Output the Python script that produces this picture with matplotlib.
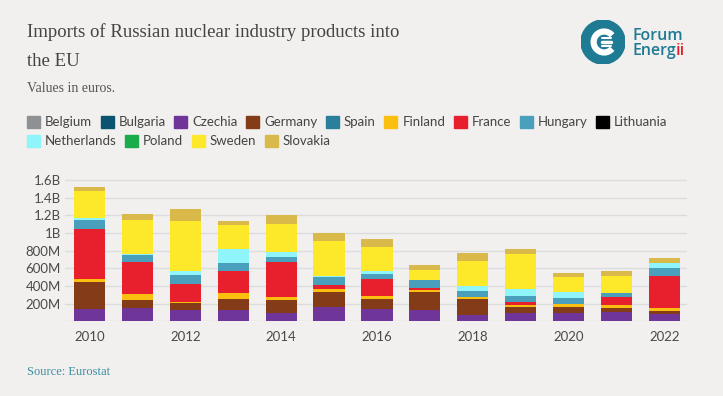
import matplotlib
matplotlib.use("Agg")
import matplotlib.pyplot as plt
from matplotlib.patches import Rectangle, Circle, Arc
import numpy as np

# values in million euros
years = [2010, 2011, 2012, 2013, 2014, 2015, 2016, 2017, 2018, 2019, 2020, 2021, 2022]
belgium = [0, 0, 0, 0, 0, 0, 0, 0, 0, 0, 0, 0, 0]
bulgaria = [0, 0, 0, 0, 0, 0, 0, 0, 0, 0, 0, 0, 0]
czechia = [140, 155, 132, 132, 94, 166, 140, 132, 75, 91, 91, 106, 87]
germany = [305, 87, 76, 121, 148, 166, 113, 204, 182, 71, 71, 45, 30]
spain = [0, 0, 0, 0, 0, 0, 0, 0, 0, 0, 0, 0, 0]
finland = [34, 67, 11, 68, 37, 38, 34, 19, 19, 23, 34, 34, 34]
france = [566, 363, 207, 249, 397, 38, 192, 26, 0, 34, 0, 94, 366]
hungary = [102, 83, 102, 90, 52, 94, 57, 83, 67, 68, 72, 42, 87]
lithuania = [0, 0, 0, 0, 0, 0, 0, 0, 0, 0, 0, 0, 0]
netherlands = [23, 7, 42, 159, 61, 7, 38, 0, 57, 79, 64, 0, 56]
poland = [0, 0, 0, 0, 0, 0, 0, 8, 0, 0, 0, 0, 0]
sweden = [309, 389, 570, 275, 317, 401, 268, 113, 287, 400, 174, 196, 0]
slovakia = [46, 68, 132, 42, 102, 94, 90, 57, 90, 53, 41, 57, 57]

countries = ["Belgium", "Bulgaria", "Czechia", "Germany", "Spain", "Finland", "France",
             "Hungary", "Lithuania", "Netherlands", "Poland", "Sweden", "Slovakia"]
series = [belgium, bulgaria, czechia, germany, spain, finland, france,
          hungary, lithuania, netherlands, poland, sweden, slovakia]
colors = ["#8e9094", "#0b5470", "#6f3598", "#833c17", "#2a7f9c", "#fbbf10", "#e8202e",
          "#4a9fbd", "#000000", "#8ff5fa", "#1aab4b", "#fde92a", "#d9b94a"]

xtick_years = [2010, 2012, 2014, 2016, 2018, 2020, 2022]
ytick_vals = [0, 200, 400, 600, 800, 1000, 1200, 1400, 1600]
ytick_labels = ["", "200M", "400M", "600M", "800M", "1B", "1.2B", "1.4B", "1.6B"]

BG = "#f1f0ee"
W, H = 723, 396

fig = plt.figure(figsize=(7.23, 3.96), dpi=100, facecolor=BG)

# ---- plot area ----
ax = fig.add_axes([65 / W, 74.7 / H, 622 / W, 143.1 / H])
ax.set_facecolor(BG)

bottom = np.zeros(len(years))
for name, vals, col in zip(countries, series, colors):
    v = np.array(vals, dtype=float) * 1e6
    ax.bar(years, v, bottom=bottom, width=0.65, color=col, linewidth=0, zorder=3)
    bottom += v

ax.set_xlim(2009.49, 2022.47)
ax.set_ylim(0, 1.62e9)
ax.set_yticks([v * 1e6 for v in ytick_vals])
ax.set_yticklabels(ytick_labels)
ax.set_xticks(xtick_years)
ax.set_xticklabels([str(y) for y in xtick_years])
ax.grid(axis="y", color="#dcdcdc", linewidth=1, zorder=0)
ax.tick_params(length=0, labelsize=9.5, labelcolor="#4a4a4a", pad=3)
ax.tick_params(axis="x", pad=7)
for lab in ax.get_xticklabels() + ax.get_yticklabels():
    lab.set_family("Lato")
for s in ax.spines.values():
    s.set_visible(False)

# ---- titles ----
tfont = ["Liberation Serif", "DejaVu Serif"]
fig.text(27 / W, 1 - 37 / H, "Imports of Russian nuclear industry products into",
         fontsize=13.5, color="#444444", family=tfont, va="baseline")
fig.text(27 / W, 1 - 66 / H, "the EU", fontsize=13.5, color="#444444", family=tfont, va="baseline")
fig.text(27 / W, 1 - 92 / H, "Values in euros.", fontsize=10, color="#555555", family=tfont, va="baseline")
fig.text(27 / W, 1 - 375 / H, "Source: Eurostat", fontsize=9, color="#3d8fa3", family=tfont, va="baseline")

# ---- legend (drawn by hand so it wraps like the original) ----
renderer = fig.canvas.get_renderer()
lfont = ["Lato", "DejaVu Sans"]
rows = [countries[:9], countries[9:]]
row_y = [121.7, 140.7]
for r, names in enumerate(rows):
    x = 27
    yc = row_y[r]
    for name in names:
        col = colors[countries.index(name)]
        fig.patches.append(Rectangle((x / W, 1 - (yc + 6) / H), 13 / W, 12 / H,
                                     transform=fig.transFigure, color=col, figure=fig))
        t = fig.text((x + 18) / W, 1 - (yc + 0.5) / H, name, fontsize=9.5, color="#444444",
                     family=lfont, va="center")
        bb = t.get_window_extent(renderer)
        x = x + 18 + bb.width + 8.5

# ---- logo ----
lax = fig.add_axes([581 / W, 1 - 64 / H, 44 / W, 44 / H])
lax.set_xlim(-1, 1)
lax.set_ylim(-1, 1)
lax.set_aspect("equal")
lax.axis("off")
lax.add_patch(Circle((0, 0), 1, color="#1f7a93"))
lax.add_patch(Arc((0.05, 0), 0.95, 0.95, theta1=40, theta2=320, color="white", linewidth=4.5))
lax.plot([-0.05, 0.35], [0, 0], color="white", linewidth=2.5, solid_capstyle="round")
lax.plot([-0.05, 0.35], [0.2, 0.2], color="white", linewidth=1.5, solid_capstyle="round")
lax.plot([-0.05, 0.35], [-0.2, -0.2], color="white", linewidth=1.5, solid_capstyle="round")

lfont2 = ["Open Sans", "DejaVu Sans"]
fig.text(632 / W, 1 - 40 / H, "Forum", fontsize=11.5, color="#1f7a93", family=lfont2,
         weight="semibold", va="baseline")
t = fig.text(632 / W, 1 - 55 / H, "Energ", fontsize=11.5, color="#1f7a93", family=lfont2,
             weight="semibold", va="baseline")
bb = t.get_window_extent(renderer)
fig.text((632 + bb.width) / W, 1 - 55 / H, "ii", fontsize=11.5, color="#e8202e", family=lfont2,
         weight="semibold", va="baseline")

fig.savefig("out.png", dpi=100, facecolor=BG)
